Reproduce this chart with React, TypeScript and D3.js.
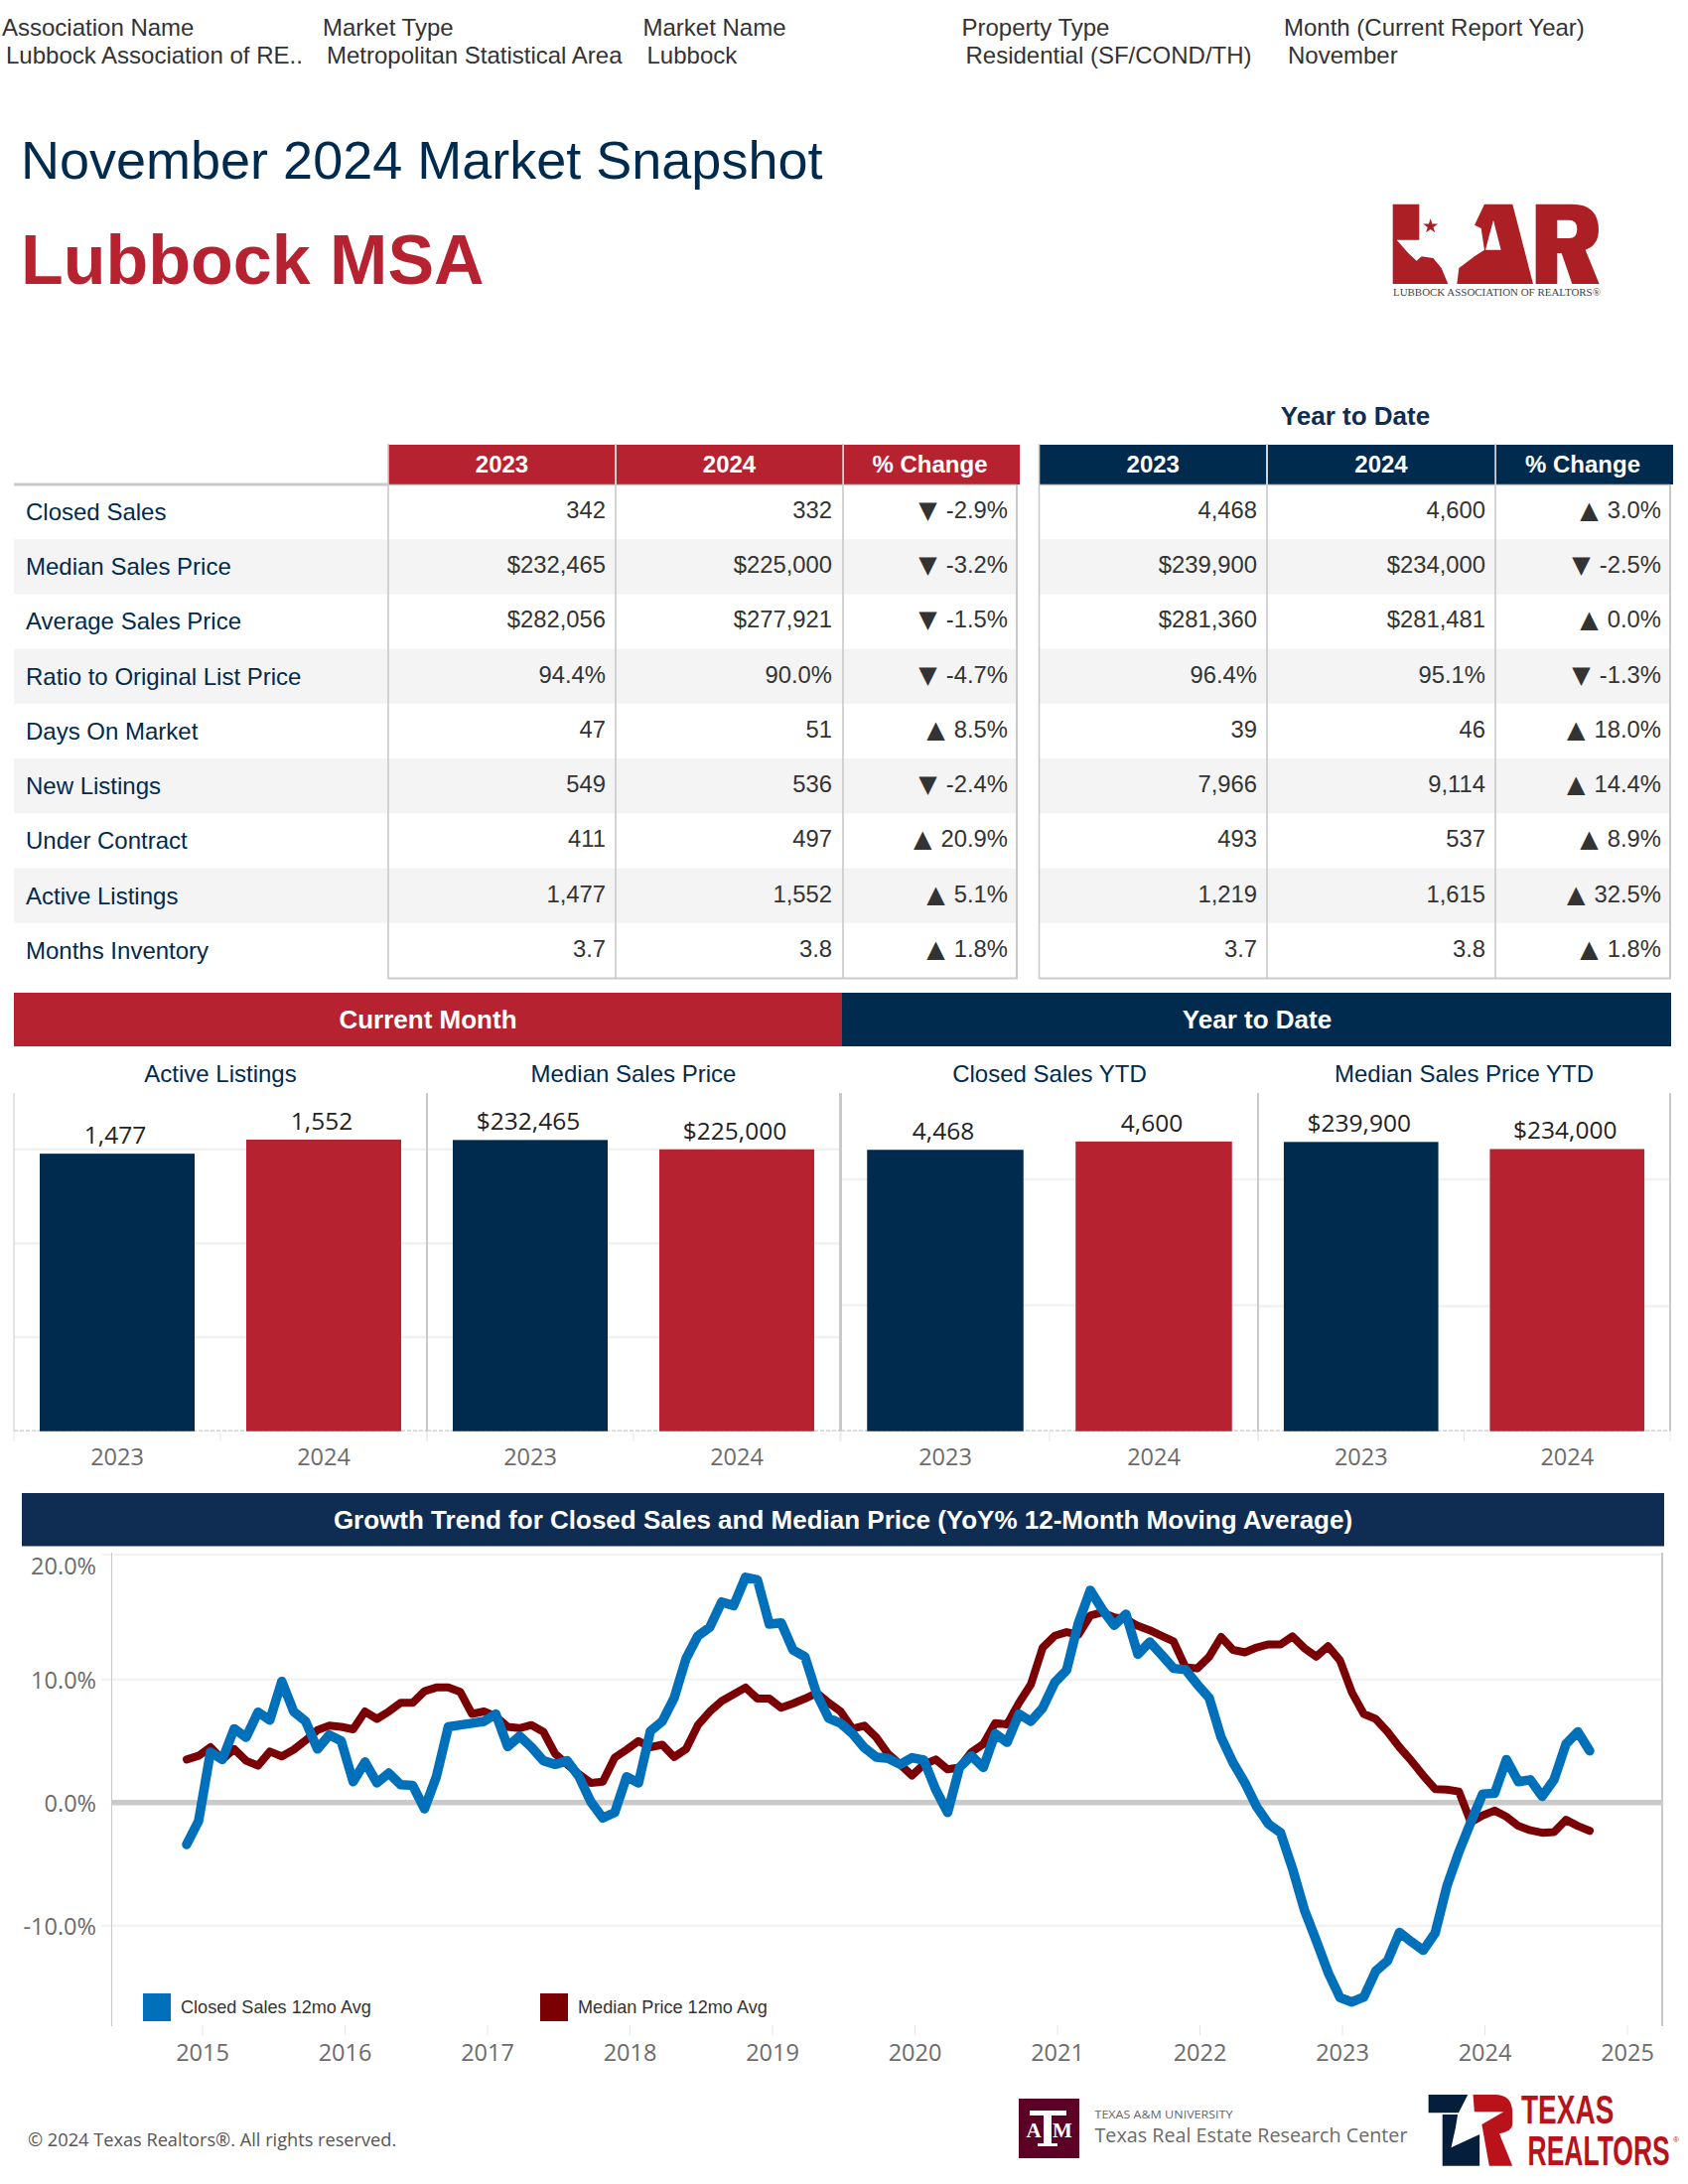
import React from "react";
import * as d3 from "d3";

const filterLabels = ["Association Name", "Market Type", "Market Name", "Property Type", "Month (Current Report Year)"];
const filterValues = ["Lubbock Association of RE..", "Metropolitan Statistical Area", "Lubbock", "Residential (SF/COND/TH)", "November"];

const metrics = ["Closed Sales", "Median Sales Price", "Average Sales Price", "Ratio to Original List Price", "Days On Market", "New Listings", "Under Contract", "Active Listings", "Months Inventory"];
const month2023 = ["342", "$232,465", "$282,056", "94.4%", "47", "549", "411", "1,477", "3.7"];
const month2024 = ["332", "$225,000", "$277,921", "90.0%", "51", "536", "497", "1,552", "3.8"];
const monthChange = ["▼ -2.9%", "▼ -3.2%", "▼ -1.5%", "▼ -4.7%", "▲ 8.5%", "▼ -2.4%", "▲ 20.9%", "▲ 5.1%", "▲ 1.8%"];
const ytd2023 = ["4,468", "$239,900", "$281,360", "96.4%", "39", "7,966", "493", "1,219", "3.7"];
const ytd2024 = ["4,600", "$234,000", "$281,481", "95.1%", "46", "9,114", "537", "1,615", "3.8"];
const ytdChange = ["▲ 3.0%", "▼ -2.5%", "▲ 0.0%", "▼ -1.3%", "▲ 18.0%", "▲ 14.4%", "▲ 8.9%", "▲ 32.5%", "▲ 1.8%"];
const tableHeads = ["2023", "2024", "% Change"];

const barYears = ["2023", "2024"];
const barTitles = ["Active Listings", "Median Sales Price", "Closed Sales YTD", "Median Sales Price YTD"];
const barValues = [[1477, 1552], [232465, 225000], [4468, 4600], [239900, 234000]];
const barLabels = [["1,477", "1,552"], ["$232,465", "$225,000"], ["4,468", "4,600"], ["$239,900", "$234,000"]];
const barMax = [1800, 270000, 5370, 280500];
const barGrid = [[500, 1000, 1500], [75000, 150000, 225000], [2000, 4000], [103600, 208800]];

const closedSales12 = [-3.4, -1.5, 4.1, 3.5, 6.0, 5.3, 7.35, 6.7, 9.85, 7.4, 6.6, 4.35, 5.5, 5.0, 1.7, 3.3, 1.6, 2.4, 1.45, 1.4, -0.5, 2.1, 6.15, 6.3, 6.45, 6.6, 7.2, 4.55, 5.4, 4.5, 3.4, 3.1, 3.4, 2.1, 0.05, -1.25, -0.8, 2.1, 1.6, 5.8, 6.6, 8.5, 11.7, 13.55, 14.25, 16.3, 16.0, 18.3, 18.1, 14.5, 14.6, 12.4, 11.85, 8.8, 6.85, 6.45, 5.6, 4.45, 3.7, 3.6, 3.1, 3.65, 3.45, 1.05, -0.8, 2.85, 3.8, 2.85, 5.6, 4.9, 7.2, 6.6, 7.7, 9.75, 10.75, 14.6, 17.25, 15.7, 14.4, 15.3, 12.05, 13.05, 12.0, 10.9, 10.8, 9.6, 8.5, 5.3, 3.25, 1.6, -0.35, -1.75, -2.45, -5.35, -8.7, -11.2, -13.8, -15.85, -16.2, -15.8, -13.7, -12.85, -10.55, -11.3, -12.0, -10.6, -6.75, -4.0, -1.6, 0.7, 0.75, 3.5, 1.7, 1.85, 0.5, 1.85, 4.75, 5.75, 4.2];
const medianPrice12 = [3.5, 3.8, 4.5, 3.5, 4.35, 3.4, 3.0, 4.15, 3.75, 4.3, 5.05, 5.9, 6.25, 6.15, 5.95, 7.4, 6.8, 7.4, 8.1, 8.1, 9.05, 9.35, 9.35, 9.0, 7.2, 7.4, 7.0, 6.15, 6.05, 6.3, 5.75, 3.95, 3.1, 2.3, 1.6, 1.7, 3.65, 4.3, 5.0, 4.5, 4.7, 3.7, 4.35, 6.3, 7.4, 8.25, 8.8, 9.35, 8.45, 8.45, 7.7, 8.05, 8.45, 8.9, 8.1, 7.4, 6.0, 6.25, 5.3, 3.95, 3.1, 2.2, 3.1, 3.5, 2.7, 2.85, 4.1, 4.75, 6.45, 6.35, 8.1, 9.6, 12.6, 13.55, 13.85, 13.65, 15.2, 15.45, 15.05, 14.9, 14.35, 14.0, 13.55, 13.1, 11.0, 10.9, 11.85, 13.45, 12.4, 12.2, 12.6, 12.85, 12.85, 13.5, 12.55, 11.85, 12.7, 11.55, 8.95, 7.2, 6.8, 5.75, 4.5, 3.4, 2.2, 1.1, 1.05, 0.9, -1.6, -1.05, -0.65, -1.15, -1.9, -2.25, -2.45, -2.4, -1.4, -1.9, -2.3];
const yearTicks = [2015, 2016, 2017, 2018, 2019, 2020, 2021, 2022, 2023, 2024, 2025];
const pctTicks = [20, 10, 0, -10];

const SANS = "'Liberation Sans', Arial, sans-serif";
const BOOK = "'Open Sans', sans-serif";
const NAVY = "#002B4F";
const RED = "#B72231";
const GRAY = "#C9C9C9";
const INK = "#333333";

function Cell({ x, y, v }: any) {
  const tri = v[0] === "▲" || v[0] === "▼";
  return (
    <text x={x} y={y} textAnchor="end" fontSize={23.8} fill={INK} fontFamily={SANS}>
      {tri ? <tspan fontFamily="'DejaVu Sans', sans-serif" fontSize={24}>{v[0]}</tspan> : null}
      {tri ? <tspan dx={2.5}>{v.slice(1)}</tspan> : v}
    </text>
  );
}

function DataTable({ x0, ends, valueRight, cols, head }: any) {
  const top = 488;
  const rowH = (985 - top) / 9;
  return (
    <g>
      {metrics.map((_, i) => i % 2 === 1 && <rect key={i} x={x0} y={top + rowH * i} width={ends[ends.length - 1] - x0} height={rowH} fill="#F4F4F4" />)}
      {tableHeads.map((h, c) => (
        <g key={h}>
          <rect x={c === 0 ? ends[0] : ends[c] + 1} y={448} width={ends[c + 1] - ends[c] - 1 + (c === 2 ? 3 : 0)} height={40} fill={head} />
          <text x={(ends[c] + ends[c + 1]) / 2} y={476} textAnchor="middle" fontSize={24} fontWeight={700} fill="#fff" fontFamily={SANS}>{h}</text>
        </g>
      ))}
      {ends.map((e: number, c: number) => (
        <line key={c} x1={e} x2={e} y1={c === 3 ? 488 : 447} y2={986} stroke={GRAY} strokeWidth={c === 3 ? 2 : 1.6} />
      ))}
      <line x1={ends[0]} x2={ends[3] + 1} y1={985.5} y2={985.5} stroke={GRAY} strokeWidth={2} />
      <line x1={ends[0]} x2={ends[3]} y1={488.5} y2={488.5} stroke={GRAY} strokeWidth={1.5} />
      {cols.map((col: string[], c: number) =>
        col.map((v, i) => <Cell key={c + "-" + i} x={valueRight[c]} y={top + rowH * i + 34} v={v} />)
      )}
    </g>
  );
}

function BarPanel({ idx, x0, x1 }: any) {
  const yTop = 1101;
  const yBase = 1441.7;
  const x = d3.scaleBand<string>().domain(barYears).range([x0, x1]).paddingInner(0.25).paddingOuter(0.125);
  const y = d3.scaleLinear().domain([0, barMax[idx]]).range([yBase, yTop]);
  const mid = (x0 + x1) / 2;
  return (
    <g>
      {barGrid[idx].map((g) => <line key={g} x1={x0} x2={x1} y1={y(g)} y2={y(g)} stroke="#F1F1F1" strokeWidth={2.5} />)}
      {[x0, x1].map((e, i) => (
        <line key={i} x1={e} x2={e} y1={yTop} y2={yBase} stroke={GRAY} strokeWidth={idx === 0 && i === 0 ? 1 : 2} />
      ))}
      <line x1={x0} x2={x1} y1={yBase - 0.5} y2={yBase - 0.5} stroke={GRAY} strokeWidth={1.2} strokeDasharray="4 2" />
      {[x0, mid, x1].map((t, i) => <line key={i} x1={t} x2={t} y1={yBase} y2={yBase + 10} stroke="#E6E6E6" strokeWidth={1} />)}
      {barYears.map((yr, i) => (
        <g key={yr}>
          <rect x={x(yr)} y={y(barValues[idx][i])} width={x.bandwidth()} height={yBase - y(barValues[idx][i])} fill={i === 0 ? NAVY : RED} />
          <text x={x(yr)! + x.bandwidth() / 2 - 2} y={y(barValues[idx][i]) - 10} textAnchor="middle" fontSize={24.5} fill="#222" fontFamily={BOOK}>{barLabels[idx][i]}</text>
          <text x={x(yr)! + x.bandwidth() / 2} y={1475.5} textAnchor="middle" fontSize={23.5} fill="#6B6B6B" fontFamily={BOOK}>{yr}</text>
        </g>
      ))}
      <text x={mid} y={1090} textAnchor="middle" fontSize={24} fill={NAVY} fontFamily={SANS}>{barTitles[idx]}</text>
    </g>
  );
}

function Trend() {
  const x = d3.scaleLinear().domain([0, closedSales12.length - 1]).range([188, 1601]);
  const y = d3.scaleLinear().domain([-10, 20]).range([1939.8, 1567.8]);
  const tx = d3.scaleLinear().domain([2015, 2025]).range([204, 1639]);
  const line = d3.line<number>().x((_, i) => x(i)).y((d) => y(d));
  const fmt = (t: number) => t.toFixed(1) + "%";
  return (
    <g>
      <rect x={22} y={1504} width={1654} height={53.5} fill="#0F2C52" />
      <text x={849} y={1539.5} textAnchor="middle" fontSize={26} fontWeight={700} fill="#fff" fontFamily={SANS}>Growth Trend for Closed Sales and Median Price (YoY% 12-Month Moving Average)</text>
      {[20, 10, -10].map((t) => <line key={t} x1={102} x2={1674} y1={t === 20 ? 1566 : y(t)} y2={t === 20 ? 1566 : y(t)} stroke="#F1F1F1" strokeWidth={2} />)}
      <line x1={112.5} x2={112.5} y1={1564} y2={2041} stroke={GRAY} strokeWidth={1} />
      <line x1={1674} x2={1674} y1={1564} y2={2041} stroke={GRAY} strokeWidth={2} />
      <line x1={112} x2={1674} y1={y(0)} y2={y(0)} stroke="#CACACA" strokeWidth={5.5} />
      <path d={line(medianPrice12)!} fill="none" stroke="#7A0003" strokeWidth={8} strokeLinejoin="round" strokeLinecap="round" />
      <path d={line(closedSales12)!} fill="none" stroke="#0070BB" strokeWidth={9.5} strokeLinejoin="round" strokeLinecap="round" />
      {pctTicks.map((t) => (
        <text key={t} x={97} y={t === 20 ? 1586 : y(t) + 9} textAnchor="end" fontSize={23.5} fill="#6B6B6B" fontFamily={BOOK}>{fmt(t)}</text>
      ))}
      {yearTicks.map((t) => (
        <g key={t}>
          <line x1={tx(t)} x2={tx(t)} y1={2040} y2={2050} stroke="#E6E6E6" strokeWidth={1} />
          <text x={tx(t)} y={2076} textAnchor="middle" fontSize={23.5} fill="#6B6B6B" fontFamily={BOOK}>{t}</text>
        </g>
      ))}
      <rect x={144} y={2008} width={28} height={28} fill="#0070BB" />
      <text x={182} y={2028} fontSize={18.1} fill={INK} fontFamily={SANS}>Closed Sales 12mo Avg</text>
      <rect x={544} y={2008} width={28} height={28} fill="#7A0003" />
      <text x={582} y={2028} fontSize={18.1} fill={INK} fontFamily={SANS}>Median Price 12mo Avg</text>
    </g>
  );
}

function LarLogo() {
  const star = d3.symbol().type(d3.symbolStar).size(620)()!;
  const c = "#AC2025";
  return (
    <g>
      <g transform="translate(1380,190) scale(0.3333)">
        <path fill={c} d="M68,47 H148 V155 H80 L115,195 L140,218 L155,205 L190,210 L215,240 L235,288 H68 Z" />
        <path fill={c} fillRule="evenodd" d="M345,47 H430 L492,288 H262 L268,240 L315,205 L345,185 L335,120 L315,110 Z M372,95 L348,185 H395 Z" />
        <path fill={c} fillRule="evenodd" d="M500,47 H610 Q690,47 690,125 Q690,170 650,185 L692,288 H610 L578,195 H565 V288 H500 Z M565,95 H600 Q625,95 625,122 Q625,150 600,150 H565 Z" />
        <path fill={c} d={star} transform="translate(182,114)" />
      </g>
      <text x={1403} y={298} fontSize={10.5} fill="#444" fontFamily="'Liberation Serif', serif" textLength={209} lengthAdjust="spacingAndGlyphs">LUBBOCK ASSOCIATION OF REALTORS®</text>
    </g>
  );
}

function FooterLogos() {
  return (
    <g>
      <rect x={1026} y={2114} width={61} height={60} fill="#5C0025" />
      <rect x={1037} y={2126} width={37} height={5} fill="#fff" />
      <rect x={1051} y={2126} width={8} height={36} fill="#fff" />
      <rect x={1045} y={2159} width={20} height={3} fill="#fff" />
      <text x={1041} y={2153} textAnchor="middle" fontSize={21} fontWeight={700} fill="#fff" fontFamily="'Liberation Serif', serif">A</text>
      <text x={1070} y={2153} textAnchor="middle" fontSize={21} fontWeight={700} fill="#fff" fontFamily="'Liberation Serif', serif">M</text>
      <text x={1102.5} y={2134} fontSize={11} fill="#666" fontFamily={BOOK} textLength={139} lengthAdjust="spacingAndGlyphs">TEXAS A&amp;M UNIVERSITY</text>
      <text x={1102.5} y={2158} fontSize={20} fill="#6A6A6A" fontFamily={BOOK} textLength={315} lengthAdjust="spacingAndGlyphs">Texas Real Estate Research Center</text>
      <g transform="translate(1010,2090) scale(0.4405,0.3333)">
        <path fill="#041E3C" d="M973,60 H1063 L1042,115 H973 Z" />
        <path fill="#041E3C" d="M1005,120 L1040,120 L1035,160 L1025,220 L1090,180 V275 H1005 Z" />
        <path fill="#B9121B" d="M1075,60 H1125 Q1165,60 1165,115 V150 Q1165,170 1135,178 L1165,275 H1112 L1095,150 L1145,112 H1078 Z" />
      </g>
      <text transform="translate(1532,2139) scale(1,1.46)" fontSize={28} fontWeight={700} fill="#B9121B" fontFamily={SANS}>TEXAS</text>
      <text transform="translate(1538.5,2181) scale(1,1.586)" fontSize={26.5} fontWeight={700} fill="#B9121B" fontFamily={SANS}>REALTORS</text>
      <text x={1685} y={2158} fontSize={8} fill="#B9121B" fontFamily={SANS}>®</text>
    </g>
  );
}

export default function App() {
  const filterX = [2, 325, 647.5, 968.5, 1293];
  return (
    <svg width={1700} height={2200} viewBox="0 0 1700 2200" style={{ position: "absolute", left: 0, top: 0, background: "#fff" }}>
      {filterLabels.map((l, i) => (
        <g key={l} fontFamily={SANS} fontSize={24} fill={INK}>
          <text x={filterX[i]} y={36}>{l}</text>
          <text x={filterX[i] + 4} y={64}>{filterValues[i]}</text>
        </g>
      ))}
      <text x={21} y={180} fontSize={54} fill={NAVY} fontFamily={SANS}>November 2024 Market Snapshot</text>
      <text x={21} y={286} fontSize={70} fontWeight={700} fill={RED} fontFamily={SANS}>Lubbock MSA</text>
      <LarLogo />

      <text x={1365} y={428} textAnchor="middle" fontSize={26} fontWeight={700} fill="#0F2C52" fontFamily={SANS}>Year to Date</text>
      <line x1={14} x2={391} y1={488} y2={488} stroke={GRAY} strokeWidth={3} />
      <DataTable x0={14} ends={[391, 620, 849, 1024]} valueRight={[610, 838, 1015]} cols={[month2023, month2024, monthChange]} head={RED} />
      <DataTable x0={1046} ends={[1046.5, 1276, 1506, 1682]} valueRight={[1266, 1496, 1673]} cols={[ytd2023, ytd2024, ytdChange]} head={NAVY} />
      {metrics.map((m, i) => (
        <text key={m} x={26} y={488 + ((985 - 488) / 9) * i + 36} fontSize={24} fill={NAVY} fontFamily={SANS}>{m}</text>
      ))}

      <rect x={14} y={1000} width={834} height={54} fill={RED} />
      <rect x={848} y={1000} width={835} height={54} fill={NAVY} />
      <text x={431} y={1036} textAnchor="middle" fontSize={26} fontWeight={700} fill="#fff" fontFamily={SANS}>Current Month</text>
      <text x={1266} y={1036} textAnchor="middle" fontSize={26} fontWeight={700} fill="#fff" fontFamily={SANS}>Year to Date</text>

      <BarPanel idx={0} x0={14} x1={430} />
      <BarPanel idx={1} x0={430} x1={846} />
      <BarPanel idx={2} x0={847} x1={1267} />
      <BarPanel idx={3} x0={1267} x1={1682} />

      <Trend />

      <text x={28} y={2162} fontSize={18.2} fill="#555" fontFamily={BOOK}>© 2024 Texas Realtors®. All rights reserved.</text>
      <FooterLogos />
    </svg>
  );
}
